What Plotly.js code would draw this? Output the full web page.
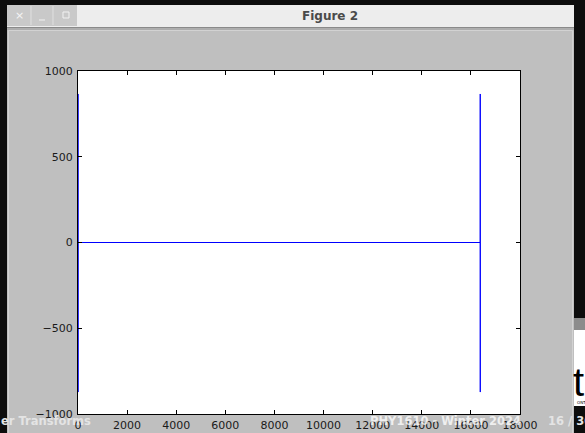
<!DOCTYPE html>
<html>
<head>
<meta charset="utf-8">
<script src="https://cdn.plot.ly/plotly-3.0.1.min.js"></script>
<style>
  html, body { margin: 0; padding: 0; background: #0d0d0d; }
  #fig { width: 585px; height: 433px; }
</style>
</head>
<body>
<div id="fig"></div>
<script>
// FFT of the sampled signal (16384 points): flat at zero except the two end spikes
const sampleIndex = [0, 1, 2, 3, 16380, 16381, 16382, 16383];
const fftValue    = [0, 866, -872, 0, 0, 866, -872, 0];

const xTicks = [0, 2000, 4000, 6000, 8000, 10000, 12000, 14000, 16000, 18000];
const yTicks = [-1000, -500, 0, 500, 1000];

const W = 585, H = 433;
const L = 78, R = 520, T = 71, B = 414;
// pixel -> paper coordinates for the window decoration
const px = x => (x - L) / (R - L);
const py = y => (B - y) / (B - T);

function rect(x0, y0, x1, y1, fill, line) {
  return {
    type: 'rect', xref: 'paper', yref: 'paper', layer: 'below',
    x0: px(x0), x1: px(x1), y0: py(y1), y1: py(y0),
    fillcolor: fill,
    line: line ? { color: line, width: 1 } : { width: 0 }
  };
}
function hline(x0, x1, y, color) {
  return { type: 'line', xref: 'paper', yref: 'paper', layer: 'below',
    x0: px(x0), x1: px(x1), y0: py(y), y1: py(y), line: { color: color, width: 1 } };
}
function vline(x, y0, y1, color) {
  return { type: 'line', xref: 'paper', yref: 'paper', layer: 'below',
    x0: px(x), x1: px(x), y0: py(y0), y1: py(y1), line: { color: color, width: 1 } };
}
function label(text, x, y, size, color, opts) {
  return Object.assign({
    text: text, xref: 'paper', yref: 'paper', x: px(x), y: py(y),
    showarrow: false, xanchor: 'left', yanchor: 'middle',
    font: { family: 'DejaVu Sans, sans-serif', size: size, color: color }
  }, opts || {});
}

const shapes = [
  // outer dark screen
  rect(0, 0, W, H, '#0d0d0d'),
  // window body
  rect(7, 28, 574, H, '#bfbfbf'),
  rect(8.5, 30.5, 572.5, H + 2, 'rgba(0,0,0,0)', '#d2d2d2'),
  // title bar
  rect(7, 5, 574, 27, '#ededed'),
  hline(7, 574, 27.5, '#8a8a8a'),
  hline(7, 574, 29, '#9c9c9c'),
  // window buttons
  rect(7, 5, 77, 26, '#c9c9c9'),
  vline(31, 6, 25, '#e0e0e0'),
  vline(53, 6, 25, '#e0e0e0'),
  rect(63, 12, 69, 18, 'rgba(0,0,0,0)', '#f2f2f2'),
  hline(39, 45, 20, '#f2f2f2'),
  // slide strip on the right
  rect(574, 0, W, 318, '#0d0d0d'),
  rect(574, 318, W, 330, '#8c8c8c'),
  rect(574, 330, W, 406, '#ffffff'),
  rect(574, 406, W, H, '#0d0d0d'),
  // axes background
  rect(L, T, R, B, '#ffffff')
];

const annotations = [
  label('Figure 2', 330, 16, 12, '#4a4a4a',
        { xanchor: 'center', font: { family: 'DejaVu Sans, sans-serif', size: 12, color: '#4a4a4a', weight: 'bold' } }),
  label('×', 19, 16, 11, '#f4f4f4', { xanchor: 'center' }),
  label('t', 571, 382, 40, '#000000', { font: { family: 'Liberation Sans, sans-serif', size: 40, color: '#000' } }),
  label('ONT', 575, 402, 4, '#000000'),
  label('er Transforms', -1, 421, 11.5, '#e4e4e4',
        { font: { family: 'DejaVu Sans, sans-serif', size: 11.5, color: '#e4e4e4', weight: 'bold' } }),
  label('PHY1610 - Winter 2024', 368, 421, 11.5, 'rgba(255,255,255,0.75)',
        { font: { family: 'DejaVu Sans, sans-serif', size: 11.5, color: 'rgba(255,255,255,0.75)', weight: 'bold' } }),
  label('16 / 30', 546, 421, 11.5, '#e4e4e4',
        { font: { family: 'DejaVu Sans, sans-serif', size: 11.5, color: '#e4e4e4', weight: 'bold' } })
];

const trace = {
  x: sampleIndex, y: fftValue,
  type: 'scatter', mode: 'lines',
  line: { color: '#0000ff', width: 1 },
  hoverinfo: 'skip'
};

const axisCommon = {
  showgrid: false, zeroline: false,
  showline: true, linecolor: '#000', linewidth: 1, mirror: 'ticks',
  ticks: 'inside', ticklen: 4, tickcolor: '#000', tickwidth: 1,
  tickfont: { family: 'DejaVu Sans, sans-serif', size: 11, color: '#1a1a1a' },
  fixedrange: true
};

const layout = {
  width: W, height: H,
  margin: { l: L, r: W - R, t: T, b: H - B, pad: 0 },
  paper_bgcolor: '#bfbfbf',
  plot_bgcolor: '#ffffff',
  showlegend: false,
  xaxis: Object.assign({}, axisCommon, {
    range: [0, 18000], tickmode: 'array', tickvals: xTicks,
    ticktext: xTicks.map(String), ticklabelstandoff: 1
  }),
  yaxis: Object.assign({}, axisCommon, {
    range: [-1000, 1000], tickmode: 'array', tickvals: yTicks,
    ticktext: yTicks.map(v => v < 0 ? '\u2212' + Math.abs(v) : String(v)),
    ticklabelstandoff: 2
  }),
  shapes: shapes,
  annotations: annotations
};

Plotly.newPlot('fig', [trace], layout, { staticPlot: true, displayModeBar: false });
</script>
</body>
</html>
